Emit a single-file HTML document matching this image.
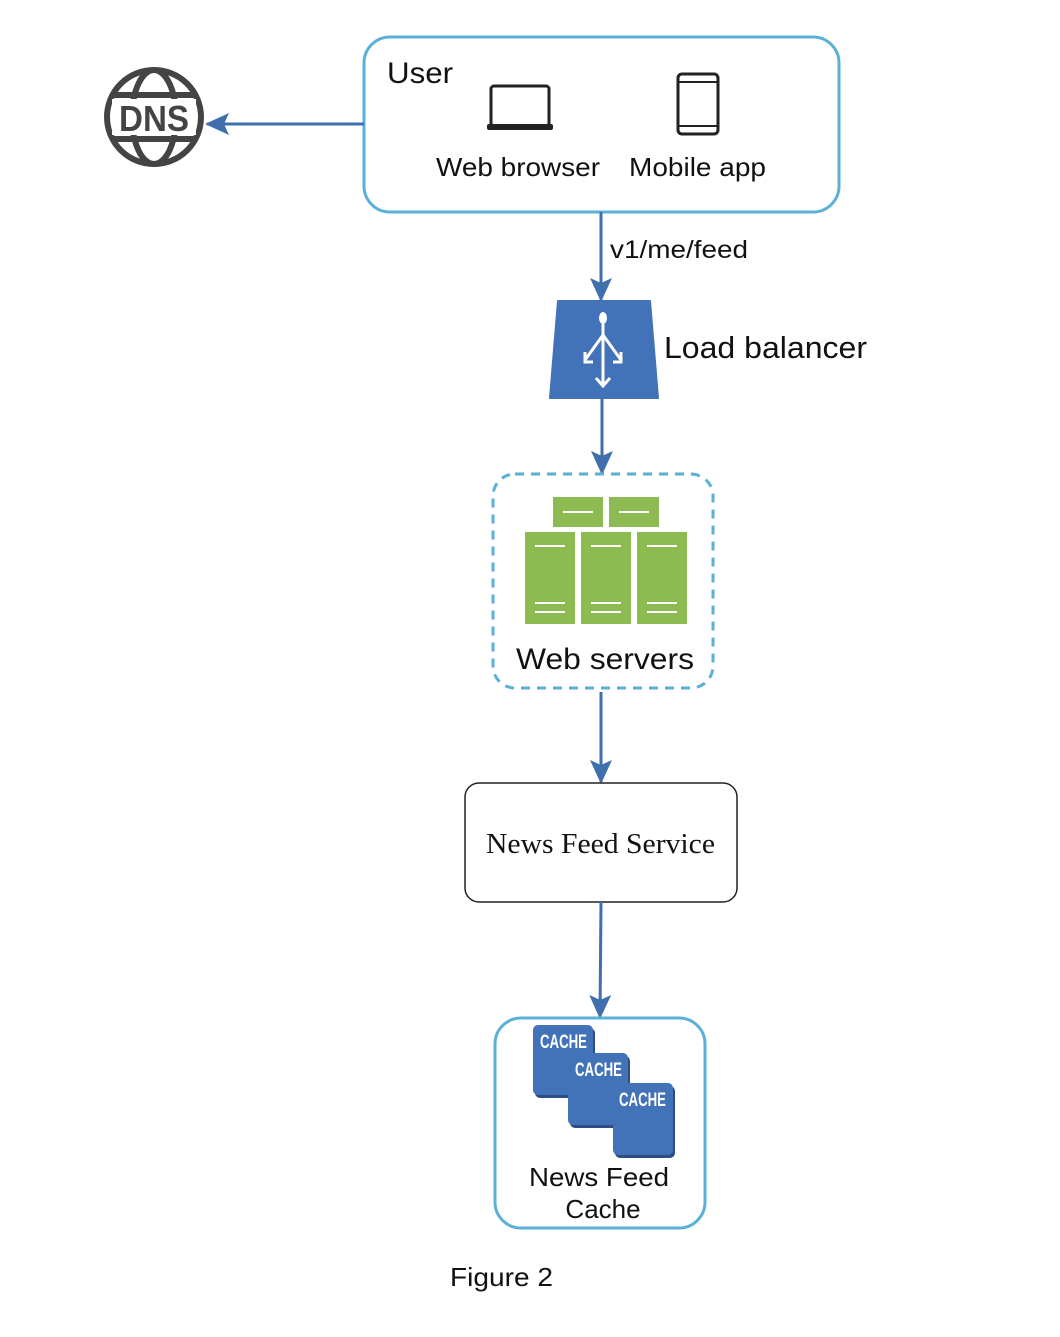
<!DOCTYPE html>
<html><head><meta charset="utf-8"><style>
body{margin:0;background:#fff;}
svg text{font-family:"Liberation Sans",sans-serif;}
</style></head><body>
<svg width="1060" height="1332" viewBox="0 0 1060 1332" xmlns="http://www.w3.org/2000/svg">
<defs><marker id="ah" markerWidth="24" markerHeight="22" refX="22" refY="11" orient="auto" markerUnits="userSpaceOnUse"><path d="M0,0 L24,11 L0,22 L5,11 Z" fill="#3f6fad"/></marker></defs>
<!-- User box -->
<rect x="364" y="37" width="475" height="175" rx="26" fill="#fff" stroke="#5ab0d8" stroke-width="3"/>
<text x="387" y="83" font-size="30" fill="#111" textLength="66" lengthAdjust="spacingAndGlyphs">User</text>
<rect x="491" y="86" width="58" height="40" rx="3" fill="none" stroke="#222" stroke-width="3"/>
<rect x="487" y="124" width="66" height="6" rx="2" fill="#222"/>
<rect x="678" y="74" width="40" height="60" rx="4" fill="none" stroke="#222" stroke-width="3"/>
<line x1="678" y1="82" x2="718" y2="82" stroke="#222" stroke-width="2"/>
<line x1="678" y1="126" x2="718" y2="126" stroke="#222" stroke-width="2"/>
<text x="436" y="176" font-size="26" fill="#111" textLength="164" lengthAdjust="spacingAndGlyphs">Web browser</text>
<text x="629" y="176" font-size="26" fill="#111" textLength="137" lengthAdjust="spacingAndGlyphs">Mobile app</text>
<!-- DNS -->
<g stroke="#444" fill="none" stroke-width="6">
<circle cx="154" cy="117" r="47"/>
<ellipse cx="154" cy="117" rx="22" ry="47"/>
<line x1="112" y1="95" x2="196" y2="95"/><line x1="112" y1="139" x2="196" y2="139"/>
</g>
<rect x="112" y="99" width="84" height="36" fill="#fff"/>
<text x="154" y="131" font-size="36" font-weight="bold" text-anchor="middle" fill="#444" textLength="70" lengthAdjust="spacingAndGlyphs">DNS</text>
<line x1="364" y1="124" x2="207" y2="124" stroke="#3f6fad" stroke-width="3" marker-end="url(#ah)"/>
<!-- arrows -->
<line x1="601" y1="212" x2="601" y2="300" stroke="#3f6fad" stroke-width="3" marker-end="url(#ah)"/>
<text x="610" y="258" font-size="25" fill="#111" textLength="138" lengthAdjust="spacingAndGlyphs">v1/me/feed</text>
<path d="M558,301 L650,301 L658,398 L550,398 Z" fill="#4272b8" stroke="#4272b8" stroke-width="2" stroke-linejoin="round"/>
<g stroke="#fff" stroke-width="3" fill="none">
<line x1="603" y1="318" x2="603" y2="386"/>
<path d="M603,335 L585,360 M603,335 L621,360 M596,378 L603,386 L610,378 M585,352 L585,362 L593,362 M621,352 L621,362 L613,362"/>
</g>
<ellipse cx="603" cy="318" rx="4" ry="6" fill="#fff"/>
<text x="664" y="358" font-size="31" fill="#111" textLength="203" lengthAdjust="spacingAndGlyphs">Load balancer</text>
<line x1="602" y1="398" x2="602" y2="473" stroke="#3f6fad" stroke-width="3" marker-end="url(#ah)"/>
<!-- Web servers -->
<rect x="493" y="474" width="220" height="214" rx="22" fill="none" stroke="#5ab0d8" stroke-width="3" stroke-dasharray="9,7"/>
<g fill="#8bbb51">
<rect x="553" y="497" width="50" height="30"/><rect x="609" y="497" width="50" height="30"/>
<rect x="525" y="532" width="50" height="92"/><rect x="581" y="532" width="50" height="92"/><rect x="637" y="532" width="50" height="92"/>
</g>
<g stroke="#fff" stroke-width="2">
<line x1="563" y1="512" x2="593" y2="512"/><line x1="619" y1="512" x2="649" y2="512"/>
<line x1="535" y1="546" x2="565" y2="546"/><line x1="591" y1="546" x2="621" y2="546"/><line x1="647" y1="546" x2="677" y2="546"/>
<line x1="535" y1="603" x2="565" y2="603"/><line x1="591" y1="603" x2="621" y2="603"/><line x1="647" y1="603" x2="677" y2="603"/>
<line x1="535" y1="612" x2="565" y2="612"/><line x1="591" y1="612" x2="621" y2="612"/><line x1="647" y1="612" x2="677" y2="612"/>
</g>
<text x="516" y="669" font-size="30" fill="#111" textLength="178" lengthAdjust="spacingAndGlyphs">Web servers</text>
<line x1="601" y1="692" x2="601" y2="782" stroke="#3f6fad" stroke-width="3" marker-end="url(#ah)"/>
<!-- NFS -->
<rect x="465" y="783" width="272" height="119" rx="14" fill="#fff" stroke="#222" stroke-width="1.5"/>
<text x="486" y="853" font-size="28" fill="#111" textLength="229" lengthAdjust="spacingAndGlyphs" style="font-family:'Liberation Serif',serif">News Feed Service</text>
<line x1="601" y1="902" x2="600" y2="1017" stroke="#3f6fad" stroke-width="3" marker-end="url(#ah)"/>
<!-- Cache -->
<rect x="495" y="1018" width="210" height="210" rx="26" fill="#fff" stroke="#5ab0d8" stroke-width="3"/>
<g fill="#2b4f82"><rect x="535" y="1028" width="60" height="70" rx="5"/><rect x="570" y="1056" width="60" height="72" rx="5"/><rect x="615" y="1086" width="60" height="72" rx="5"/></g>
<g fill="#4272b8"><rect x="533" y="1025" width="60" height="70" rx="5"/><rect x="568" y="1053" width="60" height="72" rx="5"/><rect x="613" y="1083" width="60" height="72" rx="5"/></g>
<g fill="#fff" font-size="19" font-weight="bold"><text x="540" y="1048" textLength="47" lengthAdjust="spacingAndGlyphs">CACHE</text><text x="575" y="1076" textLength="47" lengthAdjust="spacingAndGlyphs">CACHE</text><text x="619" y="1106" textLength="47" lengthAdjust="spacingAndGlyphs">CACHE</text></g>
<text x="529" y="1186" font-size="26" fill="#111" textLength="140" lengthAdjust="spacingAndGlyphs">News Feed</text>
<text x="603" y="1218" font-size="26" fill="#111" text-anchor="middle">Cache</text>
<text x="450" y="1286" font-size="26" fill="#111" textLength="103" lengthAdjust="spacingAndGlyphs">Figure 2</text>
</svg>
</body></html>
